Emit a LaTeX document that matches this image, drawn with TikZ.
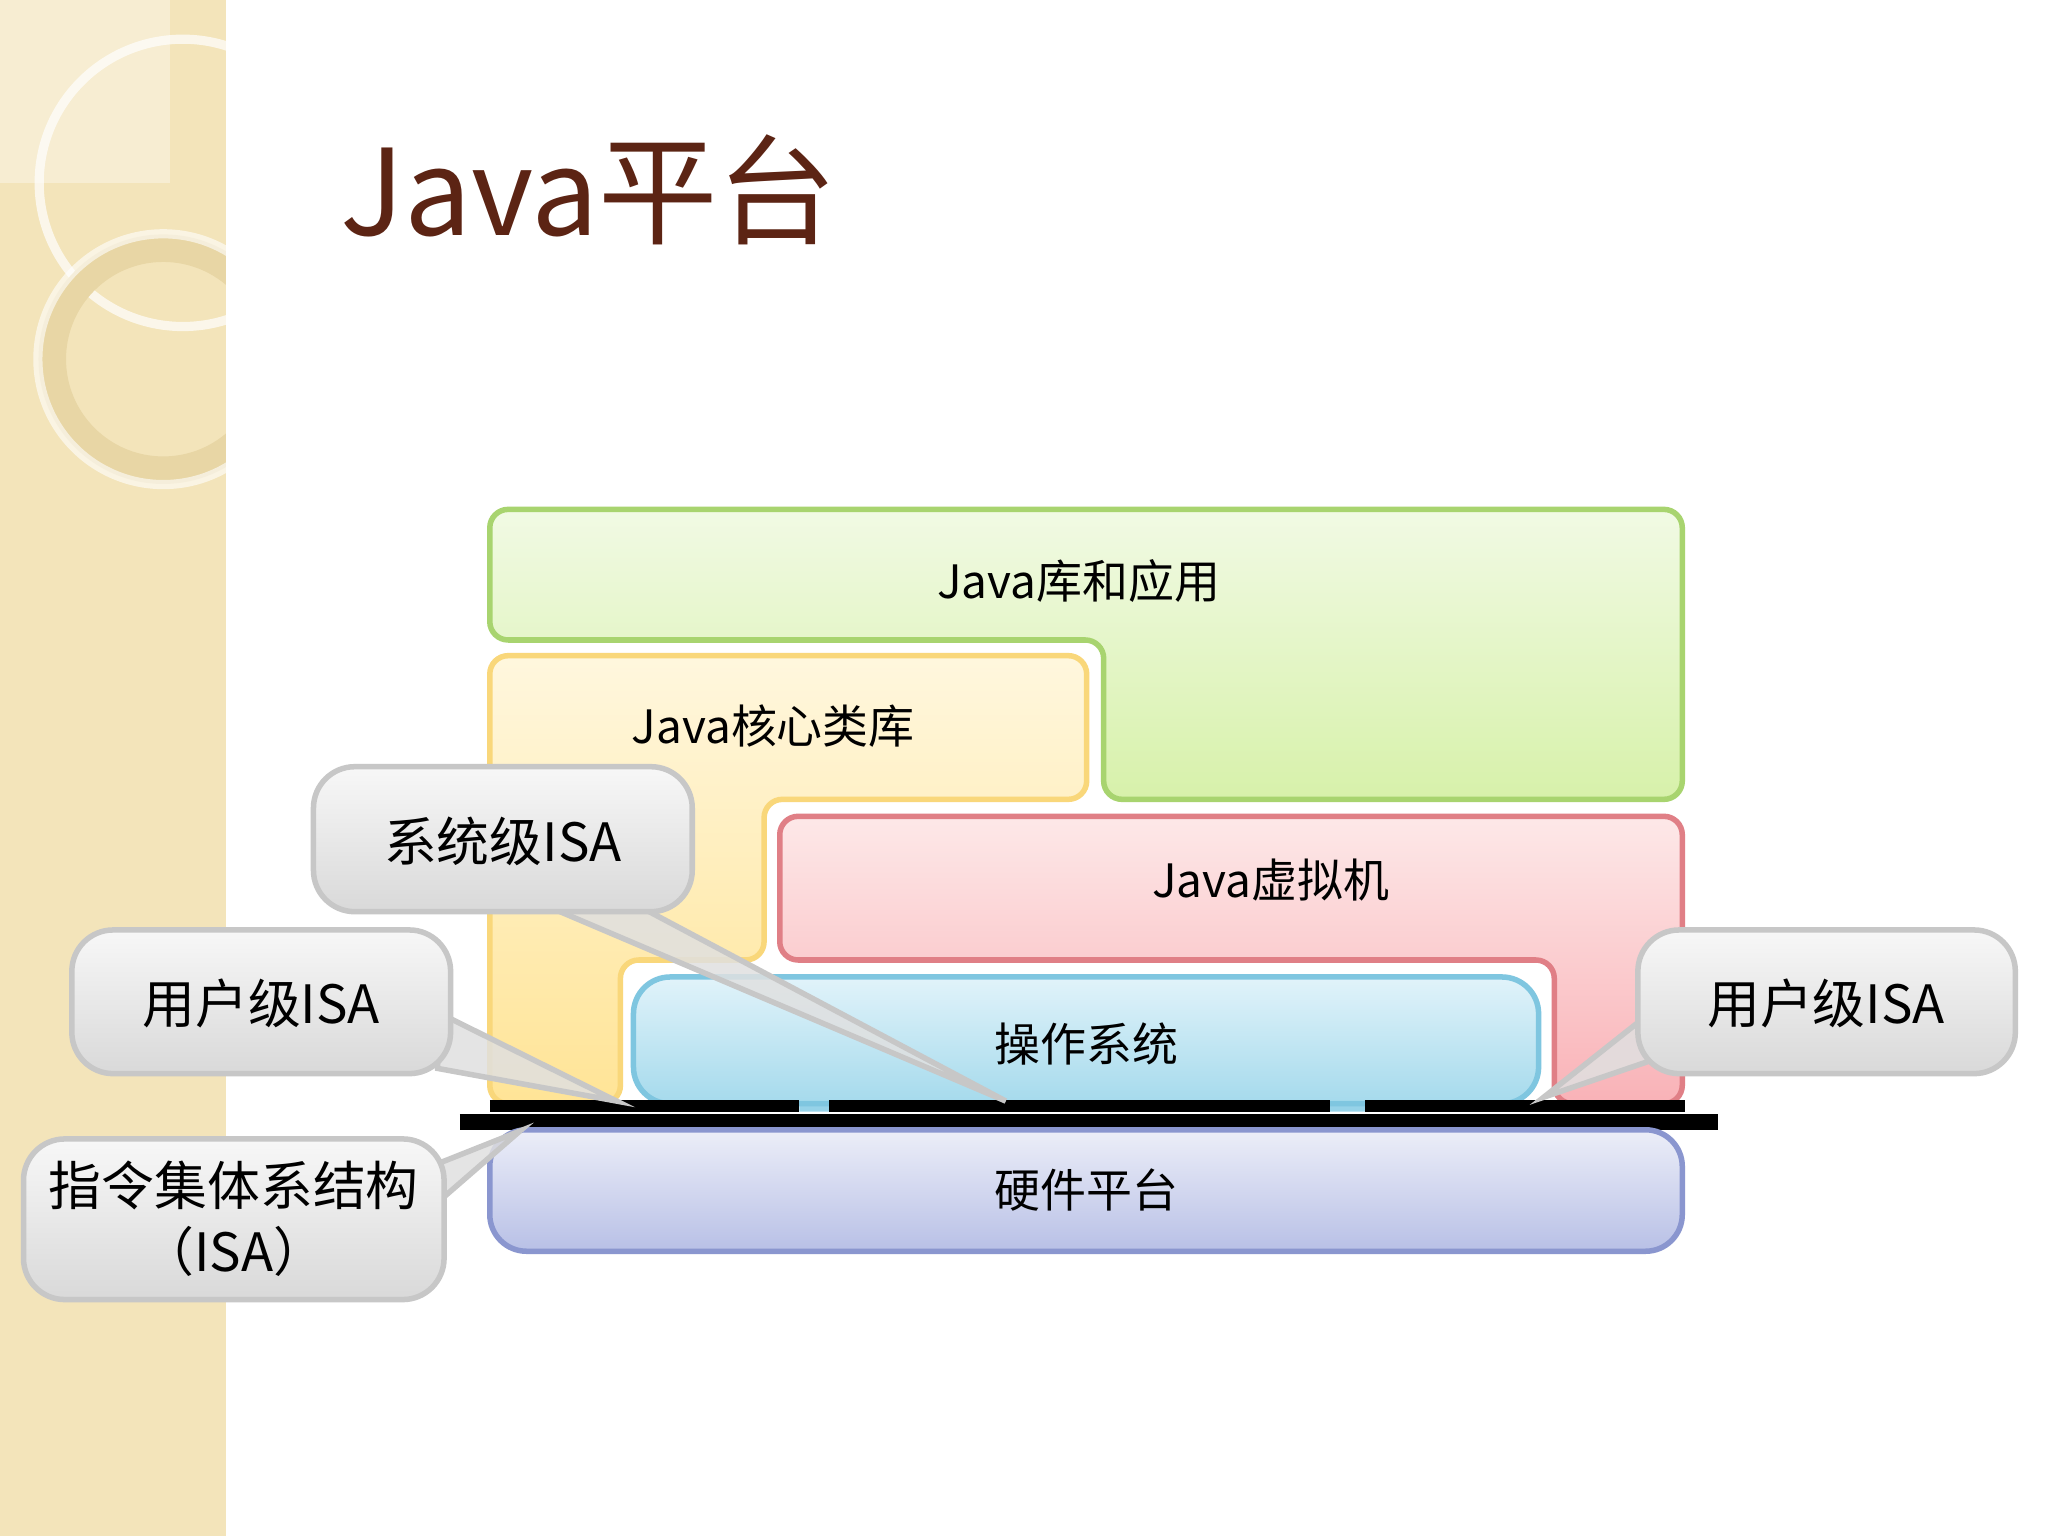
\documentclass[tikz,border=0pt]{standalone}
\usepackage{fontspec}
\setmainfont{Noto Sans CJK SC}
\begin{document}
\begin{tikzpicture}[x=0.01cm,y=-0.01cm,
  lbl/.style={font=\fontsize{10}{12}\selectfont,text=black},
  clbl/.style={font=\fontsize{11.5}{14.5}\selectfont,text=black,align=center},
  call/.style={draw=black!22,line width=1.2pt,top color=black!3,bottom color=black!15,rounded corners=9},
  ptr/.style={draw=black!22,line width=1.2pt,fill=black!12,fill opacity=0.85},
  blk/.style={line width=1.2pt,rounded corners=4}]
\useasboundingbox (0,0) rectangle (1568,1176);
\fill[white] (0,0) rectangle (1568,1176);
% left strip
\fill[color={rgb,255:red,243;green,228;blue,186}] (0,0) rectangle (173,1176);
\begin{scope}
\clip (0,0) rectangle (173,1176);
\fill[white,opacity=0.35] (0,0) rectangle (130,140);
\draw[white,opacity=0.7,line width=2pt] (140,140) circle (110);
\draw[color={rgb,255:red,232;green,214;blue,165},line width=6pt] (125,275) circle (85);
\draw[white,opacity=0.6,line width=2pt] (125,275) circle (96);
\end{scope}
% title
\node[anchor=base west,inner sep=0,text={rgb,255:red,92;green,36;blue,20},font=\fontsize{26}{30}\selectfont] (title) at (260,180) {Java平台};
% green
\path[blk,draw={rgb,255:red,168;green,212;blue,111},top color={rgb,255:red,241;green,250;blue,228},bottom color={rgb,255:red,215;green,241;blue,170}]
 (375,390) -- (1288,390) -- (1288,612) -- (845,612) -- (845,490) -- (375,490) -- cycle;
\node[lbl] (app) at (826,445) {Java库和应用};
% yellow
\path[blk,draw={rgb,255:red,249;green,215;blue,122},top color={rgb,255:red,255;green,247;blue,222},bottom color={rgb,255:red,255;green,228;blue,150}]
 (375,502) -- (832,502) -- (832,612) -- (585,612) -- (585,735) -- (475,735) -- (475,845) -- (375,845) -- cycle;
\node[lbl] (core) at (592,556) {Java核心类库};
% red
\path[blk,draw={rgb,255:red,224;green,127;blue,134},top color={rgb,255:red,253;green,232;blue,232},bottom color={rgb,255:red,249;green,178;blue,183}]
 (597,625) -- (1288,625) -- (1288,845) -- (1190,845) -- (1190,735) -- (597,735) -- cycle;
\node[lbl] (jvm) at (973,674) {Java虚拟机};
% os
\fill[color={rgb,255:red,150;green,210;blue,232}] (612,840) rectangle (635,851) (1018,840) rectangle (1045,851);
\path[blk,rounded corners=8,draw={rgb,255:red,127;green,198;blue,224},top color={rgb,255:red,225;green,243;blue,250},bottom color={rgb,255:red,165;green,218;blue,236}]
 (485,748) rectangle (1178,845);
\node[lbl] (os) at (832,799) {操作系统};
% lines
\draw[line width=2.6pt] (375,847) -- (612,847) (635,847) -- (1018,847) (1045,847) -- (1290,847);
\draw[line width=3.6pt] (352,859) -- (1315,859);
% hardware
\path[blk,rounded corners=8,draw={rgb,255:red,138;green,150;blue,207},top color={rgb,255:red,236;green,238;blue,248},bottom color={rgb,255:red,184;green,192;blue,230}]
 (375,865) rectangle (1288,958);
\node[lbl] (hw) at (832,911) {硬件平台};
% callouts
\coordinate (p1) at (770,843);
\coordinate (p2) at (472,843);
\coordinate (p3) at (1182,840);
\coordinate (p4) at (398,866);
\path[ptr] (410,690) -- (p1) -- (482,690) -- cycle;
\path[call] (240,587) rectangle (530,698);
\node[clbl] (sys) at (385,644) {系统级ISA};
\path[ptr] (335,775) -- (p2) -- (335,818) -- cycle;
\path[call] (55,712) rectangle (345,822);
\node[clbl] (u1) at (200,768) {用户级ISA};
\path[ptr] (1264,775) -- (p3) -- (1264,812) -- cycle;
\path[call] (1254,712) rectangle (1543,822);
\node[clbl] (u2) at (1398,768) {用户级ISA};
\path[ptr] (330,893) -- (p4) -- (330,925) -- cycle;
\path[call] (18,872) rectangle (340,995);
\node[clbl] (isa) at (179,933) {指令集体系结构\\（ISA）};
\end{tikzpicture}
\end{document}
